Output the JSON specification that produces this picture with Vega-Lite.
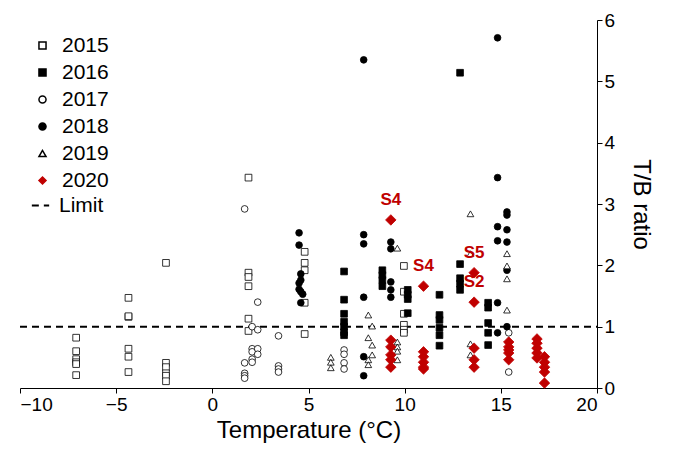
{
  "$schema": "https://vega.github.io/schema/vega-lite/v6.json",
  "width": 577,
  "height": 368,
  "autosize": "none",
  "padding": {"left": 20, "top": 20, "right": 76, "bottom": 72},
  "config": {"font": "Liberation Sans", "view": {"stroke": null}},
  "datasets": {
    "pts": [
      {"Year":"2015","T":-7.08,"R":0.82},{"Year":"2015","T":-7.08,"R":0.6},{"Year":"2015","T":-7.08,"R":0.47},{"Year":"2015","T":-7.08,"R":0.42},{"Year":"2015","T":-7.08,"R":0.39},{"Year":"2015","T":-7.08,"R":0.21},
      {"Year":"2015","T":-4.36,"R":1.47},{"Year":"2015","T":-4.36,"R":1.16},{"Year":"2015","T":-4.36,"R":1.17},{"Year":"2015","T":-4.36,"R":0.64},{"Year":"2015","T":-4.36,"R":0.51},{"Year":"2015","T":-4.36,"R":0.26},
      {"Year":"2015","T":-2.41,"R":2.04},{"Year":"2015","T":-2.41,"R":0.41},{"Year":"2015","T":-2.41,"R":0.34},{"Year":"2015","T":-2.41,"R":0.24},{"Year":"2015","T":-2.41,"R":0.2},{"Year":"2015","T":-2.41,"R":0.11},
      {"Year":"2015","T":1.88,"R":3.43},{"Year":"2015","T":1.88,"R":1.88},{"Year":"2015","T":1.88,"R":1.81},{"Year":"2015","T":1.88,"R":1.66},{"Year":"2015","T":1.88,"R":1.13},{"Year":"2015","T":1.88,"R":0.93},
      {"Year":"2015","T":4.8,"R":2.22},{"Year":"2015","T":4.8,"R":2.04},{"Year":"2015","T":4.8,"R":1.92},{"Year":"2015","T":4.8,"R":1.39},{"Year":"2015","T":4.8,"R":0.88},
      {"Year":"2015","T":9.96,"R":1.99},{"Year":"2015","T":9.96,"R":1.57},{"Year":"2015","T":9.96,"R":1.21},{"Year":"2015","T":9.96,"R":1.03},{"Year":"2015","T":9.96,"R":0.95},{"Year":"2015","T":9.96,"R":0.9},
      {"Year":"2016","T":6.85,"R":1.9},{"Year":"2016","T":6.85,"R":1.44},{"Year":"2016","T":6.85,"R":1.21},{"Year":"2016","T":6.85,"R":1.08},{"Year":"2016","T":6.85,"R":1.0},{"Year":"2016","T":6.85,"R":0.91},{"Year":"2016","T":6.85,"R":0.86},
      {"Year":"2016","T":8.84,"R":1.92},{"Year":"2016","T":8.84,"R":1.84},{"Year":"2016","T":8.84,"R":1.76},{"Year":"2016","T":8.84,"R":1.66},
      {"Year":"2016","T":10.16,"R":1.6},{"Year":"2016","T":10.16,"R":1.52},{"Year":"2016","T":10.16,"R":1.45},{"Year":"2016","T":10.16,"R":1.22},
      {"Year":"2016","T":11.81,"R":1.52},{"Year":"2016","T":11.81,"R":1.19},{"Year":"2016","T":11.81,"R":1.11},{"Year":"2016","T":11.81,"R":0.98},{"Year":"2016","T":11.81,"R":0.86},{"Year":"2016","T":11.81,"R":0.69},
      {"Year":"2016","T":12.88,"R":5.14},{"Year":"2016","T":12.88,"R":2.02},{"Year":"2016","T":12.88,"R":1.79},{"Year":"2016","T":12.88,"R":1.7},{"Year":"2016","T":12.88,"R":1.6},
      {"Year":"2016","T":14.34,"R":1.39},{"Year":"2016","T":14.34,"R":1.31},{"Year":"2016","T":14.34,"R":1.06},{"Year":"2016","T":14.34,"R":0.9},{"Year":"2016","T":14.34,"R":0.7},
      {"Year":"2017","T":1.68,"R":2.92},{"Year":"2017","T":1.68,"R":0.41},{"Year":"2017","T":1.68,"R":0.24},{"Year":"2017","T":1.68,"R":0.2},{"Year":"2017","T":1.68,"R":0.16},
      {"Year":"2017","T":2.07,"R":1.0},{"Year":"2017","T":2.07,"R":0.64},{"Year":"2017","T":2.07,"R":0.59},{"Year":"2017","T":2.07,"R":0.47},{"Year":"2017","T":2.07,"R":0.42},
      {"Year":"2017","T":2.36,"R":1.4},{"Year":"2017","T":2.36,"R":0.95},{"Year":"2017","T":2.36,"R":0.64},{"Year":"2017","T":2.36,"R":0.55},
      {"Year":"2017","T":3.44,"R":0.85},{"Year":"2017","T":3.44,"R":0.36},{"Year":"2017","T":3.44,"R":0.31},{"Year":"2017","T":3.44,"R":0.26},
      {"Year":"2017","T":6.85,"R":0.62},{"Year":"2017","T":6.85,"R":0.55},{"Year":"2017","T":6.85,"R":0.41},{"Year":"2017","T":6.85,"R":0.31},
      {"Year":"2017","T":15.41,"R":0.9},{"Year":"2017","T":15.41,"R":0.26},
      {"Year":"2018","T":4.51,"R":2.53},{"Year":"2018","T":4.51,"R":2.33},{"Year":"2018","T":4.6,"R":1.86},{"Year":"2018","T":4.6,"R":1.76},{"Year":"2018","T":4.51,"R":1.71},{"Year":"2018","T":4.51,"R":1.61},{"Year":"2018","T":4.6,"R":1.57},{"Year":"2018","T":4.7,"R":1.53},{"Year":"2018","T":4.6,"R":1.39},
      {"Year":"2018","T":7.87,"R":5.35},{"Year":"2018","T":7.87,"R":2.5},{"Year":"2018","T":7.87,"R":2.35},{"Year":"2018","T":7.87,"R":1.48},{"Year":"2018","T":7.87,"R":0.51},{"Year":"2018","T":7.87,"R":0.2},
      {"Year":"2018","T":9.28,"R":2.38},{"Year":"2018","T":9.28,"R":2.27},{"Year":"2018","T":9.28,"R":1.73},{"Year":"2018","T":9.28,"R":1.6},{"Year":"2018","T":9.28,"R":1.48},
      {"Year":"2018","T":14.83,"R":5.71},{"Year":"2018","T":14.83,"R":3.43},{"Year":"2018","T":14.83,"R":2.63},{"Year":"2018","T":14.83,"R":2.4},{"Year":"2018","T":14.83,"R":1.39},{"Year":"2018","T":14.83,"R":0.9},
      {"Year":"2018","T":15.32,"R":2.87},{"Year":"2018","T":15.32,"R":2.82},{"Year":"2018","T":15.32,"R":2.58},{"Year":"2018","T":15.32,"R":2.38},{"Year":"2018","T":15.32,"R":1.92},{"Year":"2018","T":15.32,"R":1.0},
      {"Year":"2019","T":6.16,"R":0.5},{"Year":"2019","T":6.16,"R":0.42},{"Year":"2019","T":6.16,"R":0.33},
      {"Year":"2019","T":8.11,"R":1.19},{"Year":"2019","T":8.31,"R":1.01},{"Year":"2019","T":8.11,"R":0.82},{"Year":"2019","T":8.31,"R":0.7},{"Year":"2019","T":8.31,"R":0.54},{"Year":"2019","T":8.11,"R":0.46},{"Year":"2019","T":8.11,"R":0.38},
      {"Year":"2019","T":9.62,"R":2.28},{"Year":"2019","T":9.62,"R":0.75},{"Year":"2019","T":9.62,"R":0.67},{"Year":"2019","T":9.62,"R":0.6},{"Year":"2019","T":9.62,"R":0.46},
      {"Year":"2019","T":13.42,"R":2.84},{"Year":"2019","T":13.42,"R":2.19},{"Year":"2019","T":13.42,"R":0.72},{"Year":"2019","T":13.42,"R":0.54},
      {"Year":"2019","T":15.32,"R":2.19},{"Year":"2019","T":15.32,"R":1.99},{"Year":"2019","T":15.32,"R":1.78},{"Year":"2019","T":15.32,"R":1.27},
      {"Year":"2020","T":9.28,"R":2.74,"L":"S4"},{"Year":"2020","T":9.28,"R":0.78},{"Year":"2020","T":9.28,"R":0.67},{"Year":"2020","T":9.28,"R":0.54},{"Year":"2020","T":9.28,"R":0.46},{"Year":"2020","T":9.28,"R":0.34},
      {"Year":"2020","T":10.98,"R":1.66,"L":"S4"},{"Year":"2020","T":10.98,"R":0.59},{"Year":"2020","T":10.98,"R":0.51},{"Year":"2020","T":10.98,"R":0.42},{"Year":"2020","T":10.98,"R":0.34},{"Year":"2020","T":10.98,"R":0.31},
      {"Year":"2020","T":13.61,"R":1.88,"L":"S5"},{"Year":"2020","T":13.61,"R":1.4,"L":"S2"},{"Year":"2020","T":13.61,"R":0.65},{"Year":"2020","T":13.61,"R":0.46},{"Year":"2020","T":13.61,"R":0.34},
      {"Year":"2020","T":15.41,"R":0.75},{"Year":"2020","T":15.41,"R":0.67},{"Year":"2020","T":15.41,"R":0.62},{"Year":"2020","T":15.41,"R":0.57},{"Year":"2020","T":15.41,"R":0.46},
      {"Year":"2020","T":16.88,"R":0.8},{"Year":"2020","T":16.88,"R":0.73},{"Year":"2020","T":16.88,"R":0.65},{"Year":"2020","T":16.88,"R":0.57},{"Year":"2020","T":16.88,"R":0.49},
      {"Year":"2020","T":17.27,"R":0.51},{"Year":"2020","T":17.27,"R":0.42},{"Year":"2020","T":17.27,"R":0.34},{"Year":"2020","T":17.27,"R":0.26},{"Year":"2020","T":17.27,"R":0.08}
    ]
  },
  "layer": [
    {
      "data": {"values": [{"x": -10, "x2": 20, "y": 1, "k": "Limit"}]},
      "mark": {"type": "rule", "strokeWidth": 2, "color": "black"},
      "encoding": {
        "x": {"field": "x", "type": "quantitative"},
        "x2": {"field": "x2"},
        "y": {"field": "y", "type": "quantitative"},
        "strokeDash": {"field": "k", "type": "nominal", "scale": {"range": [[7, 5]]},
          "legend": {"title": null, "orient": "none", "legendX": 10, "legendY": 175, "labelFontSize": 21, "labelColor": "black", "symbolType": "stroke", "symbolSize": 300, "symbolStrokeWidth": 2, "labelOffset": 8}}
      }
    },
    {
      "data": {"name": "pts"},
      "transform": [{"filter": "datum.Year != '2020'"}],
      "mark": {"type": "point", "strokeWidth": 0.8, "opacity": 1, "size": 45},
      "encoding": {
        "x": {"field": "T", "type": "quantitative",
          "scale": {"domain": [-10, 20]},
          "axis": {"title": "Temperature (°C)", "titleFontSize": 24, "titleFontWeight": "normal", "titleColor": "black", "labelFontSize": 19, "labelColor": "black", "values": [-10, -5, 0, 5, 10, 15, 20], "grid": false, "domainColor": "black", "tickColor": "black", "titlePadding": 4}},
        "y": {"field": "R", "type": "quantitative",
          "scale": {"domain": [0, 6]},
          "axis": {"orient": "right", "title": "T/B ratio", "titleAngle": 90, "titleFontSize": 24, "titleFontWeight": "normal", "titleColor": "black", "labelFontSize": 19, "labelColor": "black", "tickCount": 6, "grid": false, "domainColor": "black", "tickColor": "black", "titlePadding": 14}},
        "shape": {"field": "Year", "type": "nominal", "scale": {"domain": ["2015","2016","2017","2018","2019","2020"], "range": ["square","square","circle","circle","triangle-up","diamond"]}},
        "fill": {"field": "Year", "type": "nominal", "scale": {"domain": ["2015","2016","2017","2018","2019","2020"], "range": ["white","black","white","black","white","#c00000"]}},
        "stroke": {"field": "Year", "type": "nominal", "scale": {"domain": ["2015","2016","2017","2018","2019","2020"], "range": ["black","black","black","black","black","#c00000"]},
          "legend": {"title": null, "orient": "none", "legendX": 12, "legendY": 15, "labelFontSize": 21, "labelColor": "black", "rowPadding": 5, "labelOffset": 9, "symbolSize": 50}}
      }
    },
    {
      "data": {"name": "pts"},
      "transform": [{"filter": "datum.Year == '2020'"}],
      "mark": {"type": "point", "strokeWidth": 0.8, "opacity": 1, "size": 110},
      "encoding": {
        "x": {"field": "T", "type": "quantitative"},
        "y": {"field": "R", "type": "quantitative"},
        "shape": {"field": "Year", "type": "nominal"},
        "fill": {"field": "Year", "type": "nominal"},
        "stroke": {"field": "Year", "type": "nominal"}
      }
    },
    {
      "data": {"name": "pts"},
      "transform": [{"filter": "datum.L"}],
      "mark": {"type": "text", "color": "#c00000", "fontWeight": "bold", "fontSize": 17, "dy": -20},
      "encoding": {
        "x": {"field": "T", "type": "quantitative"},
        "y": {"field": "R", "type": "quantitative"},
        "text": {"field": "L"}
      }
    }
  ]
}
